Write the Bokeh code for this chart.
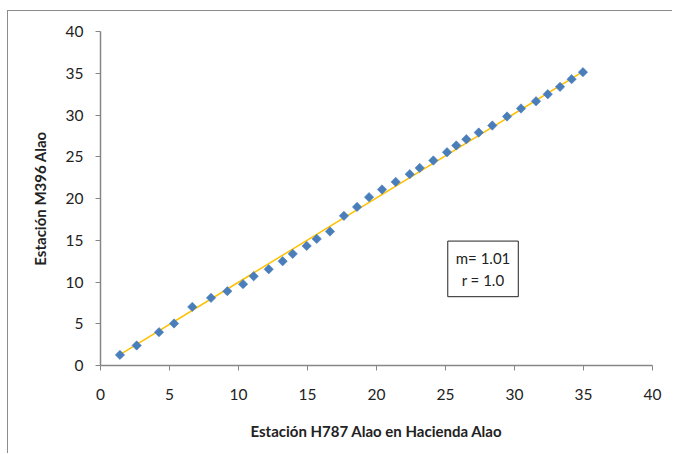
import numpy as np
from bokeh.plotting import figure
from bokeh.models import Label, Range1d, FixedTicker
from bokeh.embed import file_html
from bokeh.resources import INLINE

# Paired observations: station H787 (x) against station M396 (y)
h787 = [1.41, 2.62, 4.24, 5.33, 6.65, 8.01, 9.19, 10.33, 11.10, 12.19,
        13.20, 13.93, 14.94, 15.67, 16.63, 17.64, 18.59, 19.46, 20.40, 21.39,
        22.41, 23.13, 24.12, 25.11, 25.78, 26.51, 27.41, 28.39, 29.46, 30.47,
        31.56, 32.41, 33.30, 34.14, 34.96]
m396 = [1.27, 2.40, 3.99, 5.03, 7.02, 8.10, 8.90, 9.74, 10.69, 11.53,
        12.49, 13.37, 14.32, 15.16, 16.05, 17.92, 18.99, 20.16, 21.08, 21.99,
        22.91, 23.66, 24.55, 25.54, 26.35, 27.10, 27.90, 28.74, 29.82, 30.78,
        31.65, 32.49, 33.37, 34.29, 35.13]
slope = 1.01
r_value = 1.0
ticks = [0, 5, 10, 15, 20, 25, 30, 35, 40]

x = np.array(h787)
y = np.array(m396)
intercept = y.mean() - slope * x.mean()
fit_x = [x.min(), x.max()]
fit_y = [intercept + slope * v for v in fit_x]

FONT = "Lato"
AXIS_GRAY = "#868686"

# the chart sits inside a thin frame offset from the page corner
p = figure(width=665, height=443, output_backend="svg", toolbar_location=None,
           x_range=Range1d(0, 40), y_range=Range1d(0, 40),
           min_border_left=92, min_border_right=21,
           min_border_top=20, min_border_bottom=89)
p.margin = (10, 0, 0, 7)
p.styles = {"border-left": "1px solid #8c8c8c", "border-top": "1px solid #8c8c8c"}
p.outline_line_color = None
p.xgrid.visible = False
p.ygrid.visible = False

p.line(fit_x, fit_y, line_color="#FFC000", line_width=1.5)
# square markers turned 45 degrees give an even-sided diamond
p.scatter(h787, m396, marker="square", angle=np.pi / 4, size=6.6,
          fill_color="#4A7EBB", line_color="#4A7EBB", line_width=0.6)

for ax in (p.xaxis, p.yaxis):
    ax.ticker = FixedTicker(ticks=ticks)
    ax.minor_tick_line_color = None
    ax.axis_line_color = AXIS_GRAY
    ax.axis_line_width = 1.5
    ax.major_tick_line_color = AXIS_GRAY
    ax.major_tick_out = 5
    ax.major_tick_in = 0
    ax.major_label_text_font = FONT
    ax.major_label_text_font_size = "15.5px"
    ax.major_label_text_color = "#222222"
    ax.axis_label_text_font = FONT
    ax.axis_label_text_font_size = "15px"
    ax.axis_label_text_font_style = "bold"
    ax.axis_label_text_color = "#222222"

p.xaxis.axis_label = "Estación H787 Alao en Hacienda Alao"
p.yaxis.axis_label = "Estación M396 Alao"
p.xaxis.major_label_standoff = 18
p.yaxis.major_label_standoff = 12
p.xaxis.axis_label_standoff = 19
p.yaxis.axis_label_standoff = 14

p.add_layout(Label(x=27.72, y=11.57, text=f"m= {slope:.2f}\nr = {r_value:.1f}",
                   text_align="center", text_baseline="middle",
                   text_font=FONT, text_font_size="15px", text_color="#222222",
                   border_line_color="#222222", border_line_width=1,
                   background_fill_color="white", padding=8))

open("out.html", "w").write(file_html(p, INLINE))
